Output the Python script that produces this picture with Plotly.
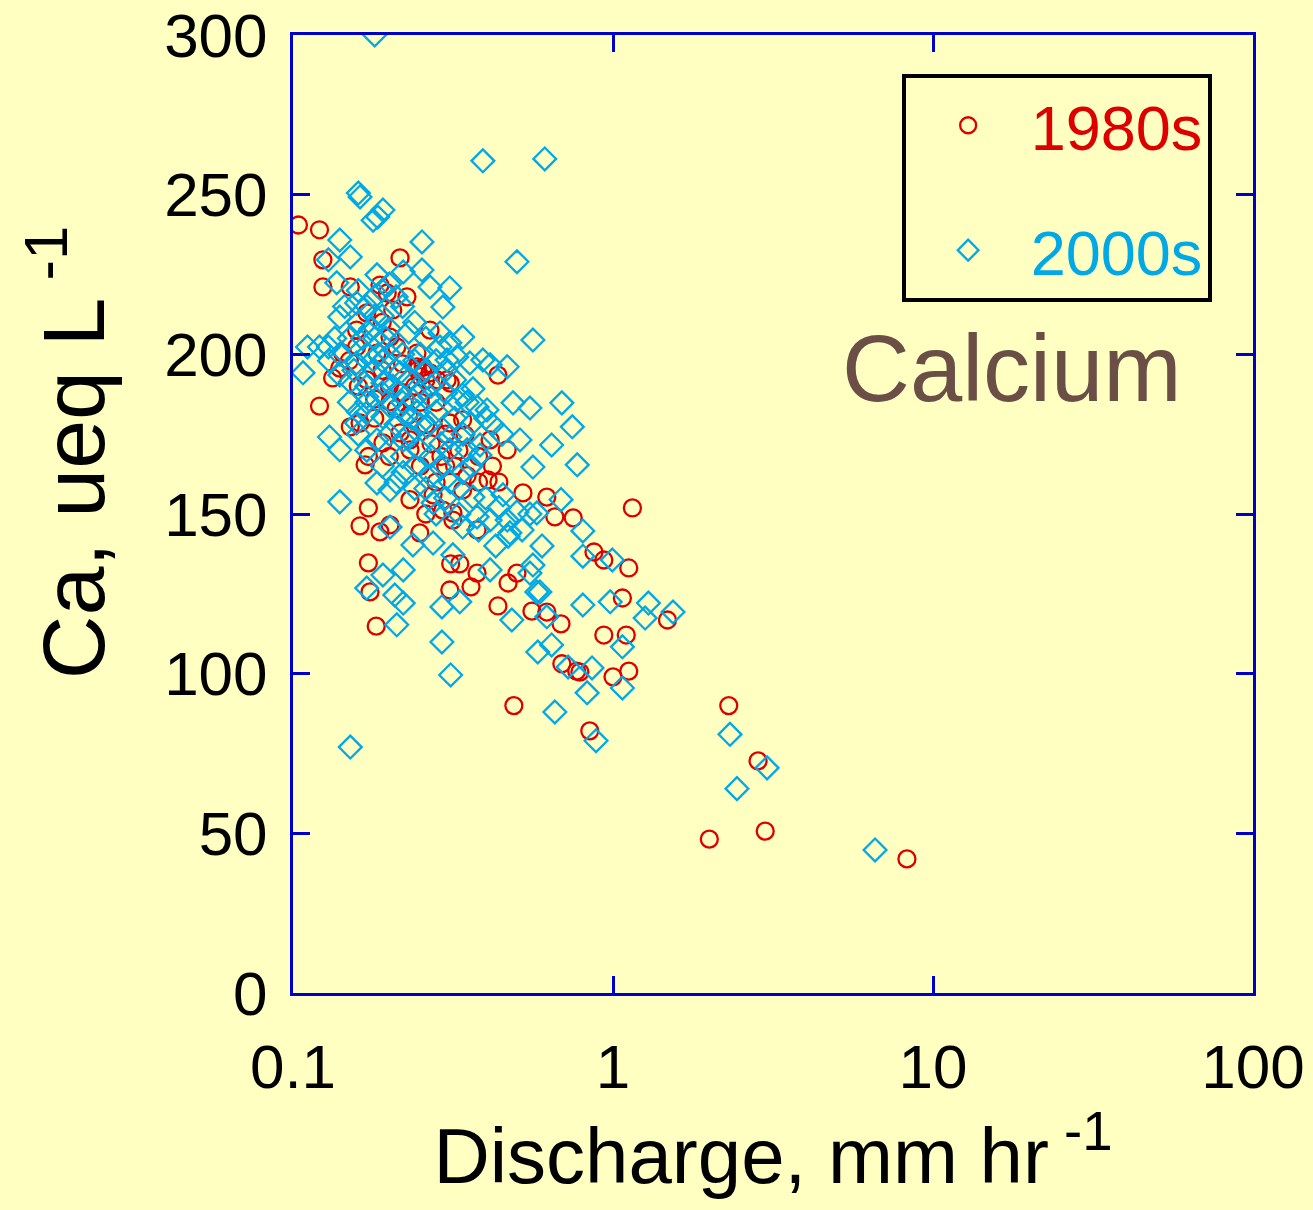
import plotly.graph_objects as go

# ---- data: 1980s (red circles) ----
q_1980s = [0.104, 0.121, 0.124, 0.124, 0.121, 0.151, 0.216, 0.187, 0.197, 0.227,
           0.158, 0.205, 0.268, 0.201, 0.133, 0.140, 0.151, 0.162, 0.168, 0.172,
           0.172, 0.162, 0.187, 0.201, 0.191, 0.216, 0.232, 0.232, 0.244, 0.255,
           0.268, 0.303, 0.309, 0.339, 0.339, 0.316, 0.274, 0.232, 0.201, 0.282,
           0.211, 0.244, 0.158, 0.183, 0.143, 0.437, 0.310, 0.345, 0.413, 0.467,
           0.407, 0.294, 0.316, 0.376, 0.523, 0.621, 0.658, 0.751, 1.15, 0.872,
           0.936, 1.12, 0.558, 0.621, 0.688, 1.07, 1.48, 0.936, 1.10, 0.692,
           0.788, 1.0, 1.12, 0.49, 0.846, 2.30, 2.84, 2.99, 2.0, 8.29,
           0.172, 0.174, 0.182, 0.249, 0.309, 0.311, 0.332, 0.376, 0.360, 0.437,
           0.470, 0.501, 0.770,
           0.17, 0.18, 0.19, 0.20, 0.21, 0.22, 0.23, 0.25, 0.26, 0.27,
           0.29, 0.30, 0.32, 0.35, 0.38, 0.22, 0.24, 0.28, 0.30, 0.19,
           0.17, 0.15, 0.16, 0.18, 0.20, 0.25, 0.28, 0.33, 0.38, 0.42,
           0.44, 0.26, 0.245, 0.25, 0.255, 0.26]
ca_1980s = [240.5, 239.0, 229.6, 221.1, 183.8, 221.1, 230.2, 221.7, 219.2, 218.0,
            207.6, 213.9, 207.6, 205.4, 192.6, 195.7, 177.3, 178.5, 165.4, 168.0,
            151.9, 146.3, 144.4, 185.1, 172.3, 175.4, 173.2, 170.1, 196.1, 194.5,
            194.2, 192.0, 178.5, 179.5, 157.5, 150.3, 156.0, 154.5, 146.6, 192.0,
            202.3, 200.4, 202.3, 200.4, 200.4, 193.5, 191.0, 174.8, 173.2, 170.1,
            160.7, 151.2, 148.1, 145.0, 156.6, 155.3, 149.1, 148.8, 151.9, 138.1,
            135.6, 133.1, 119.6, 119.3, 115.6, 123.7, 116.8, 112.1, 112.1, 103.1,
            100.5, 99.0, 100.8, 90.0, 82.1, 90.0, 72.7, 50.7, 48.2, 42.0,
            134.7, 125.6, 114.9, 144.1, 126.2, 134.4, 134.4, 131.5, 127.2, 121.2,
            128.4, 131.5, 100.8,
            192, 186, 195, 190, 183, 188, 181, 185, 178, 172,
            168, 175, 165, 162, 160, 197, 190, 185, 165, 210,
            213, 198, 190, 180, 168, 165, 160, 170, 168, 165,
            160, 150, 195, 193, 196, 192]

# ---- data: 2000s (cyan diamonds) ----
q_2000s = [0.180, 0.392, 0.612, 0.160, 0.162, 0.184, 0.191, 0.178, 0.140, 0.151,
           0.253, 0.129, 0.221, 0.253, 0.309, 0.268, 0.183, 0.137, 0.140, 0.158,
           0.294, 0.288, 0.309, 0.121, 0.339, 0.501, 0.562, 0.1075, 0.111, 0.129,
           0.140, 0.151, 0.130, 0.140, 0.140, 0.221, 0.201, 0.183, 0.249, 0.288,
           0.268, 0.309, 0.339, 0.384, 0.376, 0.325, 0.339, 0.376, 0.201, 0.274,
           0.170, 0.191, 0.216, 0.237, 0.268, 0.303, 0.357, 0.392, 0.178, 0.158,
           0.191, 0.221, 0.262, 0.221, 0.183, 0.158, 0.170,
           0.692, 0.746, 0.643, 0.773, 0.467, 0.413, 0.487, 0.550, 0.512, 0.562,
           0.688, 0.805, 0.453, 0.501, 0.365, 0.413, 0.467, 0.578, 0.476, 0.339,
           0.365, 0.404, 0.325, 0.288, 0.309, 0.350, 0.384,
           0.170, 0.191, 0.221, 0.208, 0.221, 0.211, 0.292, 0.292, 0.311, 0.151,
           0.483, 0.582, 0.332, 0.237, 0.274, 0.316, 0.413, 0.550, 0.578,
           0.805, 0.995, 0.562, 0.591, 0.805, 0.980, 1.29, 1.26, 1.54, 0.621,
           0.643, 0.724, 0.860, 1.07, 0.830, 1.07, 0.658, 0.885,
           2.32, 2.44, 3.03, 6.59,
           0.15, 0.16, 0.17, 0.18, 0.19, 0.20, 0.17, 0.18, 0.19, 0.20,
           0.21, 0.22, 0.23, 0.24, 0.25, 0.26, 0.27, 0.28, 0.30, 0.32,
           0.34, 0.36, 0.15, 0.16, 0.17, 0.18, 0.19, 0.20, 0.21, 0.22,
           0.23, 0.25, 0.27, 0.29, 0.31, 0.33, 0.36, 0.40, 0.44, 0.17,
           0.19, 0.21, 0.24, 0.26, 0.28, 0.16, 0.18, 0.20, 0.22, 0.24,
           0.26, 0.28, 0.14, 0.145, 0.155, 0.165, 0.175, 0.185, 0.195, 0.205,
           0.215, 0.225, 0.235, 0.245, 0.30, 0.32, 0.35, 0.40, 0.42, 0.45,
           0.13, 0.135, 0.19, 0.21, 0.23, 0.25, 0.17, 0.16, 0.20, 0.22,
           0.24, 0.27, 0.30, 0.33, 0.38, 0.43, 0.47, 0.52, 0.55, 0.60]
ca_2000s = [300.0, 260.6, 261.2, 250.5, 249.3, 243.0, 245.2, 242.0, 235.8, 230.5,
            235.2, 229.6, 225.8, 226.4, 220.8, 221.1, 224.9, 222.4, 211.7, 216.1,
            214.8, 206.7, 203.6, 202.3, 205.4, 229.0, 204.5, 194.2, 202.3, 202.3,
            193.5, 191.4, 174.1, 170.1, 153.8, 163.0, 157.5, 159.7, 170.1, 164.7,
            178.5, 174.1, 163.0, 171.6, 183.5, 185.7, 145.9, 149.1, 145.9, 153.5,
            186.7, 191.0, 194.2, 185.7, 186.7, 198.2, 197.3, 198.2, 198.2, 197.3,
            180.4, 181.6, 177.3, 173.2, 173.2, 178.5, 181.6,
            184.8, 177.3, 171.6, 165.4, 196.1, 196.7, 184.8, 183.2, 173.2, 164.7,
            154.5, 144.7, 156.0, 150.6, 155.3, 148.1, 148.1, 150.3, 144.1, 187.3,
            189.2, 182.6, 199.2, 202.3, 170.1, 170.1, 168.5,
            126.8, 130.9, 132.5, 124.6, 122.1, 115.3, 120.9, 109.9, 99.6, 77.0,
            116.8, 106.8, 122.5, 140.3, 140.9, 137.2, 132.5, 131.5, 125.6,
            136.8, 135.6, 134.0, 125.6, 121.5, 122.5, 122.1, 117.4, 119.3, 117.8,
            109.0, 102.1, 101.8, 108.4, 94.0, 95.5, 88.0, 79.0,
            81.0, 64.0, 70.5, 44.8,
            205, 210, 215, 218, 212, 208, 200, 205, 198, 200,
            195, 200, 192, 198, 188, 195, 190, 182, 188, 180,
            175, 178, 185, 182, 190, 195, 188, 184, 178, 185,
            175, 178, 168, 172, 160, 158, 165, 155, 152, 170,
            165, 160, 165, 158, 150, 220, 212, 222, 215, 210,
            205, 198, 200, 215, 195, 205, 208, 200, 205, 190,
            188, 193, 180, 182, 195, 192, 185, 180, 178, 175,
            198, 205, 220, 218, 207, 200, 185, 175, 175, 168,
            158, 162, 155, 150, 145, 140, 143, 145, 150, 140]

x_tickvals = [0.1, 1, 10, 100]
x_ticktext = ["0.1", "1", "10", "100"]
y_tickvals = [0, 50, 100, 150, 200, 250, 300]

RED = "#DD0000"
CYAN = "#00A9E6"
BG = "#FFFFC2"
AXIS = "#0000CC"
FONT = "Liberation Sans, Arial, sans-serif"

fig = go.Figure()
fig.add_trace(go.Scatter(
    x=q_1980s, y=ca_1980s, mode="markers",
    name="<span style='color:%s'>1980s</span>" % RED, legendgroup="a",
    marker=dict(symbol="circle-open", size=17, color=RED, line=dict(width=2.3, color=RED)),
))
fig.add_trace(go.Scatter(
    x=q_2000s, y=ca_2000s, mode="markers",
    name="<span style='color:%s'>2000s</span>" % CYAN, legendgroup="b",
    marker=dict(symbol="diamond-open", size=17.5, color=CYAN, line=dict(width=2.3, color=CYAN)),
))

fig.update_layout(
    width=1313, height=1210,
    paper_bgcolor=BG, plot_bgcolor=BG,
    margin=dict(l=293, r=60, t=35, b=217, autoexpand=False),
    font=dict(family=FONT, color="black"),
    showlegend=True,
    legend=dict(
        x=0.634, y=0.9595, xanchor="left", yanchor="top",
        bgcolor=BG, bordercolor="black", borderwidth=4,
        font=dict(size=63, family=FONT),
        tracegroupgap=40, itemsizing="trace", itemwidth=115,
    ),
    annotations=[
        dict(
            text="Calcium", x=0.749, y=0.652, xref="paper", yref="paper",
            showarrow=False, font=dict(size=94, color="#6B4E46", family=FONT),
            xanchor="center", yanchor="middle",
        ),
        dict(
            text="Ca, ueq L<sup> -1</sup>", x=-0.236, y=0.565, xref="paper", yref="paper",
            showarrow=False, textangle=-90, font=dict(size=88, color="black", family=FONT),
            xanchor="center", yanchor="middle",
        ),
    ],
)

fig.update_xaxes(
    type="log", range=[-1, 2], tickvals=x_tickvals, ticktext=x_ticktext,
    showgrid=False, zeroline=False,
    showline=True, linecolor=AXIS, linewidth=3, mirror="allticks",
    ticks="inside", ticklen=17, tickwidth=3, tickcolor=AXIS,
    tickfont=dict(size=62, family=FONT), ticklabelstandoff=18,
    title=dict(text="Discharge, mm hr<sup> -1</sup>", font=dict(size=78, family=FONT), standoff=28),
)
fig.update_yaxes(
    range=[0, 300], tickvals=y_tickvals,
    showgrid=False, zeroline=False,
    showline=True, linecolor=AXIS, linewidth=3, mirror="allticks",
    ticks="inside", ticklen=17, tickwidth=3, tickcolor=AXIS,
    tickfont=dict(size=62, family=FONT), ticklabelstandoff=10,
)

fig.write_html("out.html")
